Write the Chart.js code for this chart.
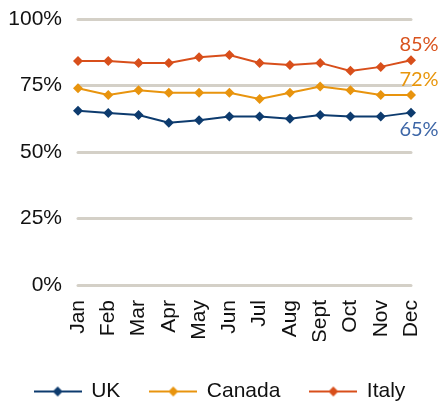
<!DOCTYPE html>
<html>
<head>
<meta charset="utf-8">
<script src="https://cdn.jsdelivr.net/npm/chart.js@4"></script>
<style>
  html, body { margin: 0; padding: 0; background: #fff; }
  #wrap { width: 440px; height: 404px; }
</style>
</head>
<body>
<div id="wrap"><canvas id="grafico" width="440" height="404"></canvas></div>
<script>
// dados (percentual por mês)
const meses = ["Jan", "Feb", "Mar", "Apr", "May", "Jun", "Jul", "Aug", "Sept", "Oct", "Nov", "Dec"];
const paises = ["UK", "Canada", "Italy"];
const valoresUK = [65.5, 64.7, 63.9, 61.0, 61.9, 63.3, 63.3, 62.5, 63.9, 63.3, 63.3, 64.8];
const valoresCanada = [74.0, 71.4, 73.2, 72.3, 72.3, 72.3, 69.9, 72.3, 74.6, 73.2, 71.4, 71.4];
const valoresItaly = [84.2, 84.2, 83.5, 83.5, 85.6, 86.5, 83.5, 82.7, 83.5, 80.5, 82.0, 84.5];
const rotulosFinais = ["65%", "72%", "85%"];
const ticksY = [0, 25, 50, 75, 100];

const cores = ["#0D3B6E", "#E8940E", "#D84F1B"];
const coresRotulo = ["#3D66A7", "#E8960C", "#D9531E"];
const FONTE = "Liberation Sans";

// marcador da legenda: linha com losango no meio
function marcadorLegenda(cor) {
  const c = document.createElement("canvas");
  c.width = 48; c.height = 12;
  const g = c.getContext("2d");
  g.strokeStyle = cor; g.lineWidth = 2;
  g.beginPath(); g.moveTo(0, 6); g.lineTo(48, 6); g.stroke();
  g.fillStyle = cor;
  g.beginPath(); g.moveTo(24, 1); g.lineTo(29, 6); g.lineTo(24, 11); g.lineTo(19, 6); g.closePath(); g.fill();
  return c;
}
const marcadores = cores.map(marcadorLegenda);

// rótulos no fim de cada linha + ajuste fino da legenda
const rotulosPlugin = {
  id: "rotulosFinais",
  afterLayout(chart, args, opts) {
    chart.legend.top += opts.desceLegenda;
    chart.legend.bottom += opts.desceLegenda;
  },
  beforeDraw(chart) { chart.ctx.lineCap = "round"; },
  afterDatasetsDraw(chart, args, opts) {
    const ctx = chart.ctx;
    ctx.save();
    ctx.font = "normal normal 400 20px Lato";
    ctx.textAlign = "center";
    ctx.textBaseline = "middle";
    chart.data.datasets.forEach((ds, i) => {
      const meta = chart.getDatasetMeta(i);
      const ultimo = meta.data[meta.data.length - 1];
      ctx.fillStyle = coresRotulo[i];
      ctx.fillText(rotulosFinais[i], ultimo.x + opts.dx, ultimo.y + opts.dy[i]);
    });
    ctx.restore();
  }
};

const series = [valoresUK, valoresCanada, valoresItaly];

new Chart(document.getElementById("grafico"), {
  type: "line",
  data: {
    labels: meses,
    datasets: series.map((valores, i) => ({
      label: paises[i],
      data: valores,
      borderColor: cores[i],
      backgroundColor: cores[i],
      borderWidth: 2,
      pointStyle: "rectRot",
      pointRadius: 5,
      pointBorderWidth: 0,
      tension: 0,
      clip: false,
    })),
  },
  options: {
    responsive: false,
    devicePixelRatio: 1,
    animation: false,
    layout: { padding: { left: 0, right: 0, top: 19, bottom: 2 } },
    scales: {
      x: {
        grid: { display: false, drawTicks: false },
        border: { display: false },
        ticks: {
          color: "#111",
          font: { family: FONTE, size: 21 },
          minRotation: 90,
          maxRotation: 90,
          padding: 15,
          autoSkip: false,
        },
        afterFit(s) { s.height = 56; s.paddingLeft = 0; s.paddingRight = 0; },
      },
      y: {
        min: 0,
        max: 100,
        afterBuildTicks(s) { s.ticks = ticksY.map(v => ({ value: v })); },
        grid: { color: "#D4D0C7", lineWidth: 3, drawTicks: false },
        border: { display: false },
        ticks: {
          color: "#111",
          font: { family: FONTE, size: 21 },
          padding: 16,
          callback: v => v + "%",
        },
        afterFit(s) { s.width = 78; s.paddingTop = 0; s.paddingBottom = 0; },
      },
      // eixo vazio à direita, só para reservar espaço dos rótulos finais
      margemDireita: {
        position: "right",
        min: 0,
        max: 100,
        grid: { display: false, drawTicks: false },
        border: { display: false },
        ticks: { display: false },
        afterFit(s) { s.width = 29; s.paddingTop = 0; s.paddingBottom = 0; },
      },
    },
    plugins: {
      tooltip: { enabled: false },
      legend: {
        position: "bottom",
        labels: {
          color: "#111",
          font: { family: FONTE, size: 21 },
          usePointStyle: true,
          pointStyleWidth: 46,
          padding: 30,
          generateLabels(chart) {
            const itens = Chart.defaults.plugins.legend.labels.generateLabels(chart);
            itens.forEach((it, i) => { it.pointStyle = marcadores[i]; });
            return itens;
          },
        },
      },
      rotulosFinais: { dx: 8, dy: [17, -16, -16], desceLegenda: 10 },
    },
  },
  plugins: [rotulosPlugin],
});
</script>
</body>
</html>
